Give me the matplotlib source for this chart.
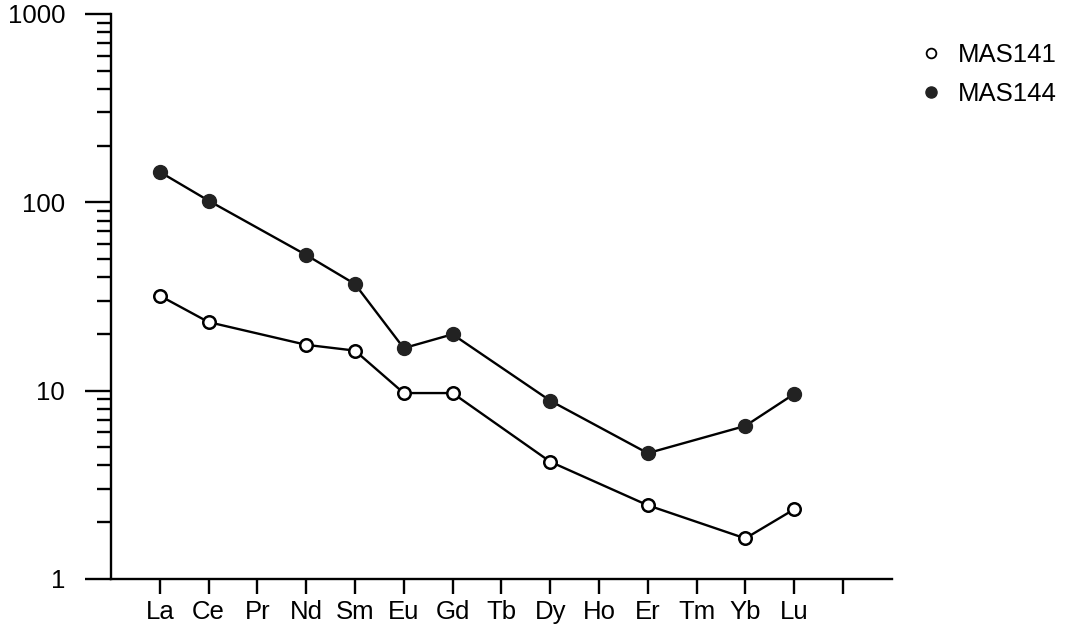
import matplotlib
matplotlib.use("Agg")
from matplotlib import pyplot as plt
from matplotlib.lines import Line2D
from matplotlib.ticker import FixedLocator, LogLocator, NullFormatter, FuncFormatter

plt.rcParams['font.family'] = ['Liberation Sans', 'DejaVu Sans']

elements = ["La", "Ce", "Pr", "Nd", "Sm", "Eu", "Gd", "Tb", "Dy", "Ho", "Er", "Tm", "Yb", "Lu"]

# measured elements and chondrite-normalised values
mas141_elems = ["La", "Ce", "Nd", "Sm", "Eu", "Gd", "Dy", "Er", "Yb", "Lu"]
mas141_vals = [31.9, 23.1, 17.5, 16.3, 9.7, 9.7, 4.19, 2.46, 1.64, 2.34]

mas144_elems = ["La", "Ce", "Nd", "Sm", "Eu", "Gd", "Dy", "Er", "Yb", "Lu"]
mas144_vals = [145, 102, 52.5, 36.8, 16.8, 19.9, 8.84, 4.65, 6.49, 9.59]

ytick_vals = [1, 10, 100, 1000]


def positions(names):
    return [elements.index(n) + 1 for n in names]


fig = plt.figure(figsize=(10.71, 6.35), dpi=100)
ax = fig.add_axes([0.1036, 0.0884, 0.7290, 0.8896])

ax.plot(positions(mas141_elems), mas141_vals, color='black', linewidth=1.7,
        marker='o', markersize=9, markerfacecolor='white', markeredgecolor='black',
        markeredgewidth=1.8, zorder=3)
ax.plot(positions(mas144_elems), mas144_vals, color='black', linewidth=1.7,
        marker='o', markersize=10, markerfacecolor='#222222', markeredgecolor='#222222',
        zorder=3)

ax.set_yscale('log')
ax.set_ylim(1, 1000)
ax.set_xlim(0, 16)

ax.yaxis.set_major_locator(FixedLocator(ytick_vals))
ax.yaxis.set_major_formatter(FuncFormatter(lambda v, p: "%d" % v))
ax.yaxis.set_minor_locator(LogLocator(base=10, subs=range(2, 10)))
ax.yaxis.set_minor_formatter(NullFormatter())

ax.set_xticks(range(1, len(elements) + 2))
ax.set_xticklabels(elements + [""])

for side in ['top', 'right']:
    ax.spines[side].set_visible(False)
for side in ['left', 'bottom']:
    ax.spines[side].set_linewidth(1.7)

ax.tick_params(axis='y', which='major', direction='out', length=19, width=1.7,
               labelsize=18.5, pad=14)
ax.tick_params(axis='y', which='minor', direction='out', length=10, width=1.7)
ax.tick_params(axis='x', which='major', direction='out', length=11, width=1.7,
               labelsize=18.5, pad=4)

handles = [
    Line2D([], [], linestyle='none', marker='o', markersize=7, markerfacecolor='white',
           markeredgecolor='black', markeredgewidth=1.3, label='MAS141'),
    Line2D([], [], linestyle='none', marker='o', markersize=8, markerfacecolor='#222222',
           markeredgecolor='#222222', label='MAS144'),
]
fig.legend(handles=handles, loc='upper left', bbox_to_anchor=(0.836, 0.968),
           frameon=False, fontsize=18.5, handlelength=1.0, handletextpad=0.55,
           labelspacing=0.55)

fig.savefig("out.png", dpi=100)
